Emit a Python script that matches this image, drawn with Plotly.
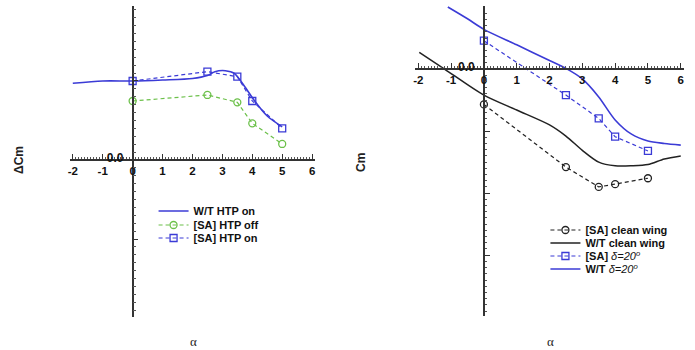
import plotly.graph_objects as go

# ---------------- data ----------------
# Left panel (ΔCm)
wt_htp_on_alpha = [-2, -1, 0, 1, 2, 2.5, 2.75, 3.1, 3.4, 3.75, 4.1, 4.5, 5]
wt_htp_on_val = [0.0971, 0.100, 0.100, 0.1013, 0.1032, 0.107, 0.1118, 0.113, 0.1097, 0.0928, 0.0738, 0.0557, 0.042]

sa_alpha = [0, 2.5, 3.5, 4, 5]
sa_htp_off_val = [0.0747, 0.0823, 0.073, 0.0464, 0.0203]
sa_htp_on_val = [0.100, 0.1118, 0.1055, 0.0747, 0.0401]

# Right panel (Cm)
wt_d20_alpha = [-1.1, -0.5, 0, 1, 2, 2.5, 3, 3.5, 4, 4.5, 5, 5.5, 6]
wt_d20_val = [0.100, 0.081, 0.064, 0.039, 0.0137, 0.001, -0.016, -0.045, -0.082, -0.105, -0.116, -0.120, -0.1226]

wt_clean_alpha = [-1.97, -1.2, 0, 1, 2, 2.5, 3, 3.5, 4, 4.5, 5, 5.5, 6]
wt_clean_val = [0.027, 0.0, -0.042, -0.066, -0.090, -0.108, -0.131, -0.150, -0.156, -0.156, -0.154, -0.145, -0.140]

sa_d20_val = [0.0457, -0.042, -0.0796, -0.109, -0.132]
sa_clean_val = [-0.057, -0.158, -0.190, -0.1855, -0.176]

x_tickvals = [-2, -1, 0, 1, 2, 3, 4, 5, 6]
x_ticktext = ["-2", "-1", "0", "1", "2", "3", "4", "5", "6"]
yl_tickvals = [-0.2, -0.1, 0.0, 0.1]
yl_ticktext = ["", "", "0.0", ""]
yr_tickvals = [-0.4, -0.3, -0.2, -0.1, 0.0, 0.1]
yr_ticktext = ["", "", "", "", "0.0", ""]

# ---------------- layout geometry ----------------
W, H = 695, 350
XR = [-2.1, 6.1]
YL = [-0.1987, 0.1949]
YR = [-0.398, 0.1016]
L_dom_x = [68 / W, 314 / W]
L_dom_y = [1 - 317 / H, 1 - 6 / H]
R_dom_x = [414.2 / W, 684 / W]
R_dom_y = [1 - 316 / H, 1 - 6 / H]


def frac(v, rng, dom):
    return dom[0] + (v - rng[0]) / (rng[1] - rng[0]) * (dom[1] - dom[0])


BLUE = "#3b3bd6"
GREEN = "#6cc04a"
BLACK = "#222222"
FONT = "Liberation Sans"

fig = go.Figure()

# left traces
fig.add_trace(go.Scatter(x=wt_htp_on_alpha, y=wt_htp_on_val, mode="lines",
                         line=dict(color=BLUE, width=1.6, shape="spline", smoothing=0.8),
                         name="<b>W/T HTP on</b>", xaxis="x", yaxis="y", legend="legend"))
fig.add_trace(go.Scatter(x=sa_alpha, y=sa_htp_off_val, mode="lines+markers",
                         line=dict(color=GREEN, width=1.2, dash="4px,3px"),
                         marker=dict(symbol="circle-open", size=7, color=GREEN, line=dict(width=1.3)),
                         name="<b>[SA] HTP off</b>", xaxis="x", yaxis="y", legend="legend2"))
fig.add_trace(go.Scatter(x=sa_alpha, y=sa_htp_on_val, mode="lines+markers",
                         line=dict(color=BLUE, width=1.2, dash="4px,3px"),
                         marker=dict(symbol="square-open", size=7, color=BLUE, line=dict(width=1.3)),
                         name="<b>[SA] HTP on</b>", xaxis="x", yaxis="y", legend="legend3"))

# right traces
fig.add_trace(go.Scatter(x=sa_alpha, y=sa_clean_val, mode="lines+markers",
                         line=dict(color=BLACK, width=1.2, dash="4px,3px"),
                         marker=dict(symbol="circle-open", size=7, color=BLACK, line=dict(width=1.3)),
                         name="<b>[SA] clean wing</b>", xaxis="x2", yaxis="y2", legend="legend4"))
fig.add_trace(go.Scatter(x=wt_clean_alpha, y=wt_clean_val, mode="lines",
                         line=dict(color=BLACK, width=1.5, shape="spline", smoothing=0.8),
                         name="<b>W/T clean wing</b>", xaxis="x2", yaxis="y2", legend="legend5"))
fig.add_trace(go.Scatter(x=sa_alpha, y=sa_d20_val, mode="lines+markers",
                         line=dict(color=BLUE, width=1.2, dash="4px,3px"),
                         marker=dict(symbol="square-open", size=7, color=BLUE, line=dict(width=1.3)),
                         name="<b>[SA]</b> <i>δ=20<sup>o</sup></i>", xaxis="x2", yaxis="y2", legend="legend6"))
fig.add_trace(go.Scatter(x=wt_d20_alpha, y=wt_d20_val, mode="lines",
                         line=dict(color=BLUE, width=1.6, shape="spline", smoothing=0.8),
                         name="<b>W/T</b> <i>δ=20<sup>o</sup></i>", xaxis="x2", yaxis="y2", legend="legend7"))


def xaxis_cfg(dom, pos):
    return dict(domain=dom, range=XR, anchor="free", position=pos,
                showline=True, linecolor="#333", linewidth=1.5, showgrid=False, zeroline=False,
                tickmode="array", tickvals=x_tickvals, ticktext=x_ticktext,
                ticks="inside", ticklen=5, tickwidth=1.2, tickcolor="#333",
                minor=dict(ticks="inside", dtick=0.1, tick0=0, ticklen=2.5, tickcolor="#555", tickwidth=1),
                tickfont=dict(family=FONT, size=11.5, color="#111", weight="bold"),
                fixedrange=True)


def yaxis_cfg(dom, rng, pos, tv, tt):
    return dict(domain=dom, range=rng, anchor="free", position=pos,
                showline=True, linecolor="#333", linewidth=1.5, showgrid=False, zeroline=False,
                tickmode="array", tickvals=tv, ticktext=tt,
                ticks="inside", ticklen=5, tickwidth=1.2, tickcolor="#333",
                minor=dict(ticks="inside", dtick=0.01, tick0=0, ticklen=2.5, tickcolor="#555", tickwidth=1),
                tickfont=dict(family=FONT, size=12, color="#111", weight="bold"),
                ticklabelstandoff=6, ticklabelshift=-2,
                fixedrange=True)


def legend_cfg(xpx, ypx):
    return dict(x=xpx / W, y=1 - ypx / H, xanchor="left", yanchor="middle",
                bgcolor="rgba(0,0,0,0)", font=dict(family=FONT, size=11, color="#111"),
                itemwidth=30, borderwidth=0)


left_rows = [211, 225, 238]
right_rows = [230, 243, 256, 269]

fig.update_layout(
    width=W, height=H,
    margin=dict(l=0, r=0, t=0, b=0),
    paper_bgcolor="white", plot_bgcolor="white",
    xaxis=xaxis_cfg(L_dom_x, frac(0, YL, L_dom_y)),
    yaxis=yaxis_cfg(L_dom_y, YL, frac(0, XR, L_dom_x), yl_tickvals, yl_ticktext),
    xaxis2=xaxis_cfg(R_dom_x, frac(0, YR, R_dom_y)),
    yaxis2=yaxis_cfg(R_dom_y, YR, frac(0, XR, R_dom_x), yr_tickvals, yr_ticktext),
    legend=legend_cfg(152, left_rows[0]),
    legend2=legend_cfg(152, left_rows[1]),
    legend3=legend_cfg(152, left_rows[2]),
    legend4=legend_cfg(545, right_rows[0]),
    legend5=legend_cfg(545, right_rows[1]),
    legend6=legend_cfg(545, right_rows[2]),
    legend7=legend_cfg(545, right_rows[3]),
    showlegend=True,
)

ann_font = dict(family=FONT, size=12, color="#222", weight="bold")
fig.add_annotation(text="ΔCm", x=17 / W, y=1 - 160 / H, xref="paper", yref="paper",
                   xanchor="center", yanchor="middle",
                   showarrow=False, textangle=-90, font=ann_font)
fig.add_annotation(text="Cm", x=360 / W, y=1 - 162 / H, xref="paper", yref="paper",
                   xanchor="center", yanchor="middle",
                   showarrow=False, textangle=-90, font=ann_font)
fig.add_annotation(text="α", x=192 / W, y=1 - 341 / H, xref="paper", yref="paper",
                   xanchor="center", yanchor="middle",
                   showarrow=False, font=dict(family="Liberation Serif", size=13, color="#222"))
fig.add_annotation(text="α", x=550 / W, y=1 - 341 / H, xref="paper", yref="paper",
                   xanchor="center", yanchor="middle",
                   showarrow=False, font=dict(family="Liberation Serif", size=13, color="#222"))

fig.write_html("out.html")
